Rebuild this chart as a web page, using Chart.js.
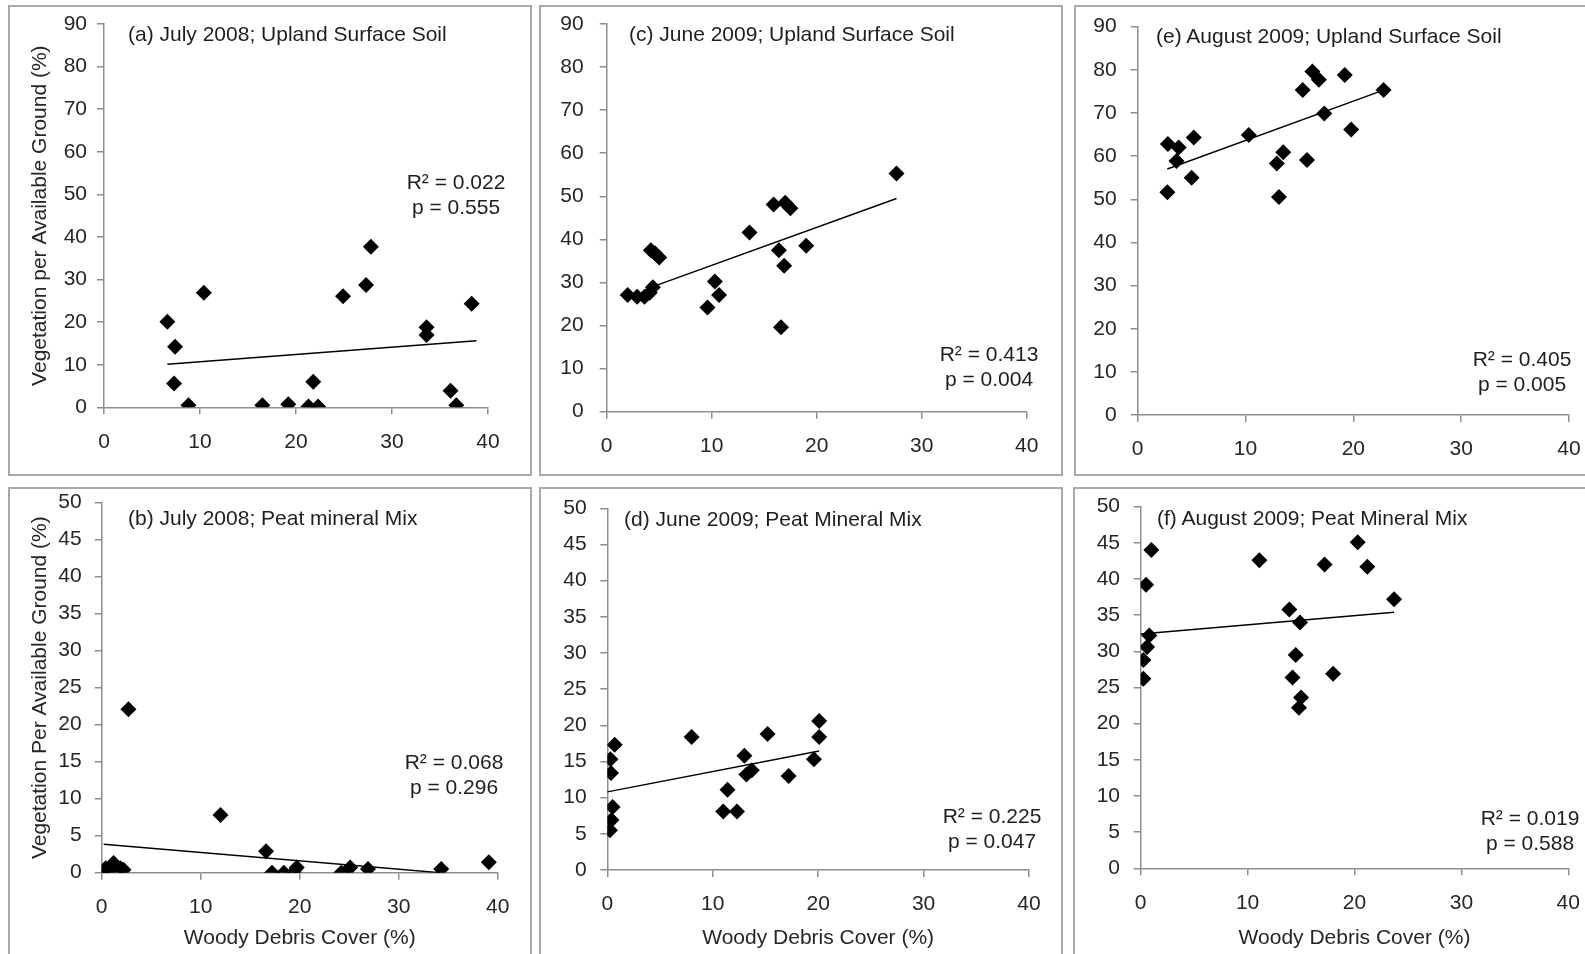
<!DOCTYPE html>
<html>
<head>
<meta charset="utf-8">
<title>Vegetation vs woody debris cover</title>
<script src="https://cdn.jsdelivr.net/npm/chart.js@4.4.1/dist/chart.umd.min.js"></script>
<style>
  html, body { margin: 0; padding: 0; background: #fff; overflow: hidden; }
  body { width: 1585px; height: 954px; position: relative; font-family: "Liberation Sans", Arial, sans-serif; }
  .panel { position: absolute; box-sizing: border-box; border: 2px solid #a9a9a9; background: #fff; overflow: hidden; }
  .panel canvas { position: absolute; left: 0; top: 0; }
  .note { position: absolute; font-size: 21px; color: #1e1e1e; white-space: nowrap; line-height: 25px; z-index: 2; }
  .title { transform: translateY(-50%); }
  .stats { transform: translate(-50%, -50%); text-align: center; }
</style>
</head>
<body>
<script>
// x axis ticks shared by every panel
const xMin = 0, xMax = 40, xStep = 10;
const uplandYMax = 90, uplandYStep = 10;
const peatYMax = 50, peatYStep = 5;

// (a) July 2008, upland surface soil
const julyUplandX = [6.6, 7.4, 7.3, 8.8, 10.4, 16.5, 19.2, 21.3, 21.8, 22.3, 24.9, 27.3, 27.8, 33.6, 33.6, 36.1, 36.7, 38.3];
const julyUplandY = [20.1, 14.2, 5.6, 0.5, 26.9, 0.5, 0.7, 0.2, 6.0, 0.2, 26.1, 28.7, 37.7, 18.8, 17.0, 3.9, 0.5, 24.3];
const julyUplandFitX = [6.6, 38.8];
const julyUplandFitY = [10.1, 15.6];

// (c) June 2009, upland surface soil
const juneUplandX = [2.0, 2.9, 3.6, 4.1, 4.4, 4.2, 4.6, 5.0, 9.6, 10.3, 10.7, 13.6, 15.9, 16.4, 16.6, 17.0, 17.5, 16.9, 19.0, 27.6];
const juneUplandY = [27.1, 26.7, 26.7, 27.6, 28.9, 37.5, 36.8, 35.8, 24.2, 30.2, 27.1, 41.6, 48.1, 37.5, 19.6, 48.5, 47.2, 33.9, 38.5, 55.3];
const juneUplandFitX = [4.6, 27.6];
const juneUplandFitY = [29.2, 49.5];

// (e) August 2009, upland surface soil
const augUplandX = [2.8, 2.75, 3.8, 3.6, 5.0, 5.2, 10.3, 12.9, 13.5, 13.1, 15.3, 15.7, 16.2, 16.8, 17.3, 19.2, 19.8, 22.8];
const augUplandY = [62.8, 51.6, 62.0, 58.9, 55.0, 64.3, 64.9, 58.3, 60.9, 50.5, 75.3, 59.1, 79.6, 77.7, 69.9, 78.8, 66.2, 75.3];
const augUplandFitX = [2.75, 22.8];
const augUplandFitY = [57.0, 75.3];

// (b) July 2008, peat mineral mix
const julyPeatX = [0.2, 0.4, 0.7, 1.2, 1.9, 2.2, 2.7, 12.0, 16.6, 17.2, 18.4, 19.4, 19.7, 24.2, 25.1, 26.9, 34.3, 39.1];
const julyPeatY = [0.2, 0.6, 0.1, 1.3, 0.6, 0.4, 22.1, 7.8, 2.9, 0.0, 0.0, 0.1, 0.7, 0.0, 0.7, 0.5, 0.5, 1.4];
const julyPeatFitX = [0.2, 34.2];
const julyPeatFitY = [3.85, 0.0];

// (d) June 2009, peat mineral mix
const junePeatX = [0.25, 0.4, 0.5, 0.35, 0.3, 0.7, 8.0, 11.0, 11.4, 12.3, 13.0, 13.2, 13.7, 15.2, 17.2, 19.6, 20.1, 20.1];
const junePeatY = [5.5, 6.9, 8.7, 13.4, 15.3, 17.3, 18.4, 8.1, 11.1, 8.1, 15.8, 13.2, 13.8, 18.8, 13.0, 15.3, 18.4, 20.6];
const junePeatFitX = [0.0, 20.1];
const junePeatFitY = [10.8, 16.45];

// (f) August 2009, peat mineral mix
const augPeatX = [0.25, 0.25, 0.6, 0.8, 0.5, 1.0, 11.1, 13.9, 14.2, 14.5, 14.9, 15.0, 14.8, 17.2, 18.0, 20.3, 21.2, 23.7];
const augPeatY = [26.2, 28.8, 30.6, 32.2, 39.2, 44.0, 42.6, 35.8, 26.4, 29.5, 34.0, 23.6, 22.2, 42.0, 26.9, 45.1, 41.7, 37.2];
const augPeatFitX = [0.0, 23.7];
const augPeatFitY = [32.4, 35.4];

const panelTitles = [
  "(a) July 2008; Upland Surface Soil",
  "(c) June 2009; Upland Surface Soil",
  "(e) August 2009; Upland Surface Soil",
  "(b) July 2008; Peat mineral Mix",
  "(d) June 2009; Peat Mineral Mix",
  "(f) August 2009; Peat Mineral Mix"
];
const rSquared = ["0.022", "0.413", "0.405", "0.068", "0.225", "0.019"];
const pValues = ["0.555", "0.004", "0.005", "0.296", "0.047", "0.588"];
const yTitles = ["Vegetation per Available Ground (%)", "", "", "Vegetation Per Available Ground (%)", "", ""];
const xTitle = "Woody Debris Cover (%)";

// layout (page pixels)
const layout = [
  { box: [8, 5, 524, 471],    area: [104, 24, 488, 407.3],      yPad: 10, title: [128, 33],   stats: [456, 182, 206] },
  { box: [539, 5, 524, 471],  area: [606.7, 24, 1026.7, 411.7], yPad: 16, title: [629, 33],   stats: [989, 354, 378] },
  { box: [1074, 5, 524, 471], area: [1137.7, 26.7, 1569, 415],  yPad: 14, title: [1156, 35],  stats: [1522, 358, 383] },
  { box: [8, 487, 524, 480],  area: [101.7, 502.7, 497.7, 872.7], yPad: 13, title: [128, 517], stats: [454, 761, 786] },
  { box: [539, 487, 524, 480], area: [607.3, 508.3, 1029, 870],  yPad: 13.6, title: [624, 518], stats: [992, 815, 840] },
  { box: [1073, 487, 524, 480], area: [1140.7, 506.7, 1568.3, 868.3], yPad: 13.7, title: [1157, 517], stats: [1530, 817, 842] }
];

const series = [
  [julyUplandX, julyUplandY, julyUplandFitX, julyUplandFitY, uplandYMax, uplandYStep],
  [juneUplandX, juneUplandY, juneUplandFitX, juneUplandFitY, uplandYMax, uplandYStep],
  [augUplandX, augUplandY, augUplandFitX, augUplandFitY, uplandYMax, uplandYStep],
  [julyPeatX, julyPeatY, julyPeatFitX, julyPeatFitY, peatYMax, peatYStep],
  [junePeatX, junePeatY, junePeatFitX, junePeatFitY, peatYMax, peatYStep],
  [augPeatX, augPeatY, augPeatFitX, augPeatFitY, peatYMax, peatYStep]
];

const FONT = "'Liberation Sans', Arial, sans-serif";
const axisColor = "#8e8e8e";
const textColor = "#262626";
const yTitleCenterX = 40;
const xTitleCenterY = 938;

function toPoints(xs, ys) {
  return xs.map((x, i) => ({ x: x, y: ys[i] }));
}

function buildPanel(i) {
  const lay = layout[i];
  const [xs, ys, fx, fy, yMax, yStep] = series[i];
  const bw = 2;
  const ox = lay.box[0] + bw, oy = lay.box[1] + bw;
  const cw = lay.box[2] - 2 * bw, ch = lay.box[3] - 2 * bw;
  const L = lay.area[0] - ox, T = lay.area[1] - oy;
  const R = lay.area[2] - ox, B = lay.area[3] - oy;
  const hasXTitle = i >= 3;
  const xH = hasXTitle ? 85 : 60;
  const lineH = 21 * 1.2;

  const panel = document.createElement("div");
  panel.className = "panel";
  panel.style.left = lay.box[0] + "px";
  panel.style.top = lay.box[1] + "px";
  panel.style.width = lay.box[2] + "px";
  panel.style.height = lay.box[3] + "px";
  const canvas = document.createElement("canvas");
  canvas.width = cw;
  canvas.height = ch;
  panel.appendChild(canvas);
  document.body.appendChild(panel);

  const title = document.createElement("div");
  title.className = "note title";
  title.style.left = lay.title[0] + "px";
  title.style.top = lay.title[1] + "px";
  title.textContent = panelTitles[i];
  document.body.appendChild(title);

  const stats = document.createElement("div");
  stats.className = "note stats";
  stats.style.left = lay.stats[0] + "px";
  stats.style.top = (lay.stats[1] + lay.stats[2]) / 2 + "px";
  stats.innerHTML = "R² = " + rSquared[i] + "<br>p = " + pValues[i];
  document.body.appendChild(stats);

  new Chart(canvas, {
    type: "scatter",
    data: {
      datasets: [
        {
          data: toPoints(xs, ys),
          pointStyle: "rectRot",
          pointRadius: 8,
          pointBackgroundColor: "#000",
          pointBorderWidth: 0,
        },
        {
          type: "line",
          data: toPoints(fx, fy),
          borderColor: "#000",
          borderWidth: 1.5,
          pointRadius: 0,
          fill: false,
        },
      ],
    },
    options: {
      responsive: false,
      animation: false,
      events: [],
      layout: {
        padding: { left: 0, top: T, right: cw - R, bottom: ch - B - xH },
      },
      plugins: { legend: { display: false }, tooltip: { enabled: false } },
      scales: {
        x: {
          type: "linear",
          min: xMin,
          max: xMax,
          afterFit: (s) => {
            s.height = xH;
            s.paddingLeft = 0;
            s.paddingRight = 0;
          },
          ticks: { stepSize: xStep, padding: 15, color: textColor, font: { family: FONT, size: 21 } },
          grid: { drawOnChartArea: false, drawTicks: true, tickLength: 7, color: axisColor, lineWidth: 1.5 },
          border: { display: true, color: axisColor, width: 1.5 },
          title: {
            display: hasXTitle,
            text: xTitle,
            color: textColor,
            font: { family: FONT, size: 21 },
            padding: { top: 0, bottom: B + xH - lineH / 2 - (xTitleCenterY - oy) },
          },
        },
        y: {
          type: "linear",
          min: 0,
          max: yMax,
          afterFit: (s) => {
            s.width = L;
            s.paddingTop = 0;
            s.paddingBottom = 0;
          },
          ticks: { stepSize: yStep, padding: lay.yPad, color: textColor, font: { family: FONT, size: 21 } },
          grid: { drawOnChartArea: false, drawTicks: true, tickLength: 7, color: axisColor, lineWidth: 1.5 },
          border: { display: true, color: axisColor, width: 1.5 },
          title: {
            display: yTitles[i] !== "",
            text: yTitles[i],
            color: textColor,
            font: { family: FONT, size: 21 },
            padding: { top: yTitleCenterX - ox - lineH / 2, bottom: 0 },
          },
        },
      },
    },
  });
}

for (let i = 0; i < layout.length; i++) {
  buildPanel(i);
}
</script>
</body>
</html>
